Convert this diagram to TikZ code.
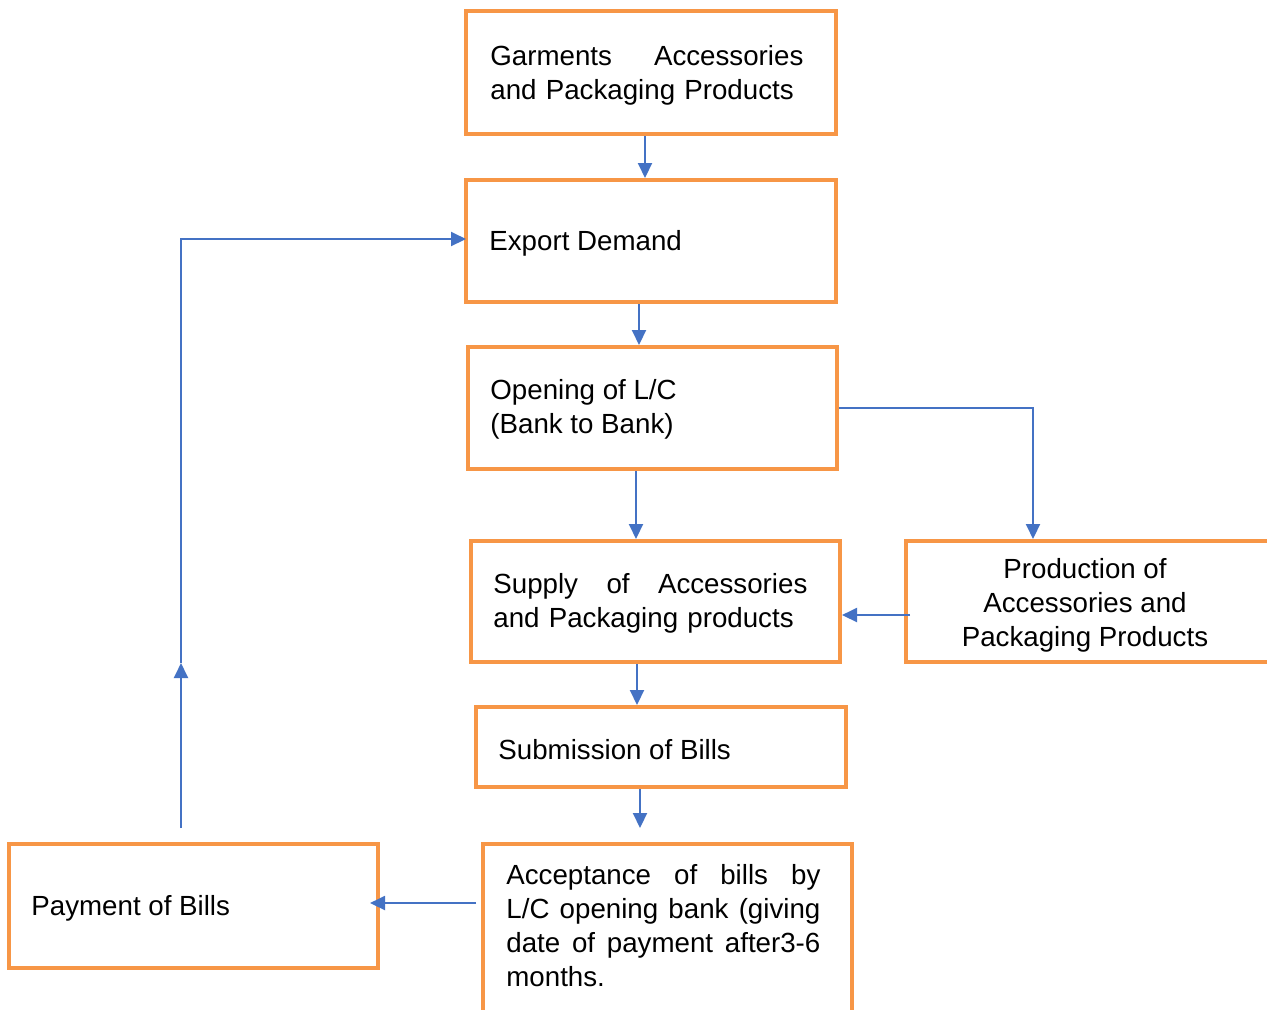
\documentclass[tikz,border=0pt]{standalone}
\usepackage{fontspec}
\setmainfont{Liberation Sans}
\usetikzlibrary{arrows.meta,calc}
\definecolor{boxorange}{HTML}{F79646}
\definecolor{arrblue}{HTML}{4472C4}
\begin{document}
\begin{tikzpicture}[x=0.5pt,y=-0.5pt,
  box/.style={draw=boxorange,line width=2pt,rectangle,inner sep=0pt},
  txt/.style={inner sep=0pt,font=\fontsize{13.85}{17}\selectfont,text=black},
  arr/.style={draw=arrblue,line width=1pt,-{Triangle[length=7.5pt,width=7pt]}},
  ln/.style={draw=arrblue,line width=1pt}]
\useasboundingbox (0,0) rectangle (1267,1009);
\fill[white] (0,0) rectangle (1267,1009);
% boxes
\node[box,minimum width=185pt,minimum height=61.5pt] (b1) at (651,72.5) {};
\node[box,minimum width=185pt,minimum height=61pt] (b2) at (651,241) {};
\node[box,minimum width=184.5pt,minimum height=61pt] (b3) at (652.5,408) {};
\node[box,minimum width=184.5pt,minimum height=60.5pt] (b4) at (655.5,601.5) {};
\node[box,minimum width=184.5pt,minimum height=60.5pt] (b5) at (1090.5,601.5) {};
\node[box,minimum width=185pt,minimum height=40pt] (b6) at (661,747) {};
\node[box,minimum width=184.5pt,minimum height=85.5pt] (b7) at (667.5,929.5) {};
\node[box,minimum width=184.5pt,minimum height=62pt] (b8) at (193.5,906) {};
% texts
\node[txt,anchor=west,text width=156.5pt,align=left] (t1) at (490,75.5)
  {Garments\hfill Accessories\\and Packaging Products};
\node[txt,anchor=west] (t2) at (489,243) {Export Demand};
\node[txt,anchor=west,align=left] (t3) at (490,409.5) {Opening of L/C\\(Bank to Bank)};
\node[txt,anchor=west,text width=157pt,align=left] (t4) at (493,603)
  {Supply\hfill of\hfill Accessories\\and Packaging products};
\node[txt,align=center] (t5) at (1085,605) {Production of\\Accessories and\\Packaging Products};
\node[txt,anchor=west] (t6) at (498,750) {Submission of Bills};
\node[txt,anchor=west,text width=157pt,align=left] (t7) at (506,926)
  {Acceptance\hfill of\hfill bills\hfill by\\L/C\hfill opening\hfill bank\hfill (giving\\date\hfill of\hfill payment\hfill after3-6\\months.};
\node[txt,anchor=west] (t8) at (31,908) {Payment of Bills};
% connectors
\draw[arr] ($(b1.south)+(-6,0)$) -- ($(b2.north)+(-6,0)$);
\coordinate (a2s) at ($(b2.south)+(-12,0)$);
\draw[arr] (a2s) -- (a2s |- b3.north);
\coordinate (a3s) at ($(b3.south)+(-16.5,0)$);
\draw[arr] (a3s) -- (a3s |- b4.north);
\draw[arr] (b3.east) -| ($(b5.north)+(-57.5,0)$);
\coordinate (a5s) at ($(b5.west)+(6,13.5)$);
\draw[arr] (a5s) -- (a5s -| b4.east);
\coordinate (a6s) at ($(b4.south)+(-18.5,0)$);
\draw[arr] (a6s) -- (a6s |- b6.north);
\coordinate (a7s) at ($(b6.south)+(-21,0)$);
\coordinate (a7e) at ($(b7.north)+(-27.5,-14)$);
\draw[arr] (a7s) -- (a7e);
\coordinate (a8s) at ($(b7.west)+(-5,-26.5)$);
\draw[arr] (a8s) -- ($(b8.east)+(-10,-3)$);
\coordinate (ps) at ($(b8.north)+(-12.5,-14)$);
\coordinate (pm) at ($(ps)+(0,-165)$);
\draw[arr] (ps) -- (pm);
\draw[arr] (pm) |- ($(b2.west)+(2,-2)$);
\end{tikzpicture}
\end{document}
